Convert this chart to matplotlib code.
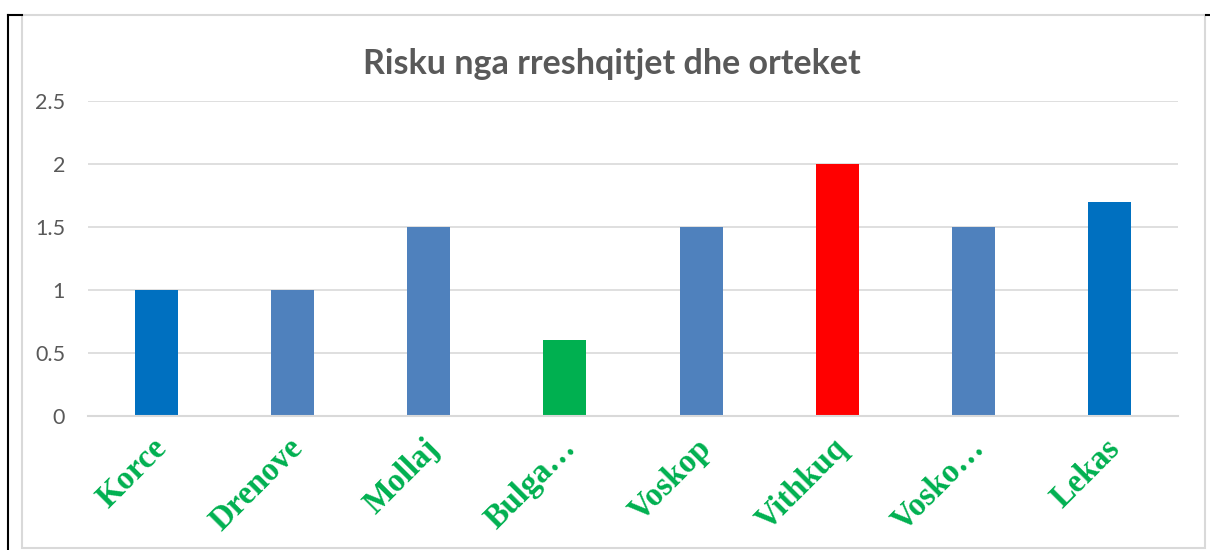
import matplotlib
matplotlib.use("Agg")
import matplotlib.pyplot as plt
from matplotlib.lines import Line2D
from matplotlib.patches import Rectangle
from matplotlib.transforms import ScaledTranslation

categories = ["Korce", "Drenove", "Mollaj", "Bulga…", "Voskop", "Vithkuq", "Vosko…", "Lekas"]
values = [1.0, 1.0, 1.5, 0.6, 1.5, 2.0, 1.5, 1.7]
colors = ["#0070C0", "#4F81BD", "#4F81BD", "#00B050", "#4F81BD", "#FF0000", "#4F81BD", "#0070C0"]
yticks = [0, 0.5, 1, 1.5, 2, 2.5]
ytick_labels = ["0", "0.5", "1", "1.5", "2", "2.5"]
title = "Risku nga rreshqitjet dhe orteket"

W, H = 1210, 550
fig = plt.figure(figsize=(W / 100, H / 100), dpi=100)
fig.patch.set_facecolor("white")

# axes placement in pixels
x0, x1 = 88, 1178
y_top, y_bot = 101, 416
ax = fig.add_axes([x0 / W, 1 - y_bot / H, (x1 - x0) / W, (y_bot - y_top) / H])

x = list(range(len(categories)))
ax.bar(x, values, width=0.315, color=colors, zorder=3)
ax.set_xlim(-0.5, len(categories) - 0.5)
ax.set_ylim(0, 2.5)
ax.set_yticks(yticks)
ax.set_yticklabels(ytick_labels, fontsize=15.5, color="#595959", family="Lato")
ax.tick_params(axis="y", length=0, pad=16.5)
ax.tick_params(axis="x", length=0, pad=12)
ax.set_xticks(x)
ax.set_xticklabels(categories, rotation=45, ha="right", va="top", rotation_mode="anchor",
                   fontsize=23.5, fontweight="bold", color="#00B050", family="Liberation Serif")
offset = ScaledTranslation(-5 / 100, 0, fig.dpi_scale_trans)
for lab in ax.get_xticklabels():
    lab.set_transform(lab.get_transform() + offset)
ax.grid(axis="y", color="#D9D9D9", linewidth=1.2, zorder=0)
for s in ["top", "right", "left"]:
    ax.spines[s].set_visible(False)
ax.spines["bottom"].set_color("#D9D9D9")
ax.spines["bottom"].set_linewidth(1.5)
ax.spines["bottom"].set_zorder(4)

fig.text(612 / W, 1 - 64 / H, title, ha="center", va="center", fontsize=24.5,
         fontweight="bold", color="#595959", family="Lato")

# chart area border
fig.add_artist(Rectangle((22 / W, 1 - 548 / H), (1205 - 22) / W, (548 - 15) / H,
                         transform=fig.transFigure, fill=False, edgecolor="#D9D9D9", linewidth=1.5))
# black page lines
fig.add_artist(Line2D([8 / W, 8 / W], [1 - 15 / H, 0], transform=fig.transFigure,
                      color="black", linewidth=1.5))
fig.add_artist(Line2D([8 / W, 22 / W], [1 - 15 / H, 1 - 15 / H], transform=fig.transFigure,
                      color="black", linewidth=1.5))
fig.add_artist(Line2D([1206 / W, 1210 / W], [1 - 15 / H, 1 - 15 / H], transform=fig.transFigure,
                      color="black", linewidth=1.5))

fig.savefig("out.png", dpi=100, facecolor="white")
